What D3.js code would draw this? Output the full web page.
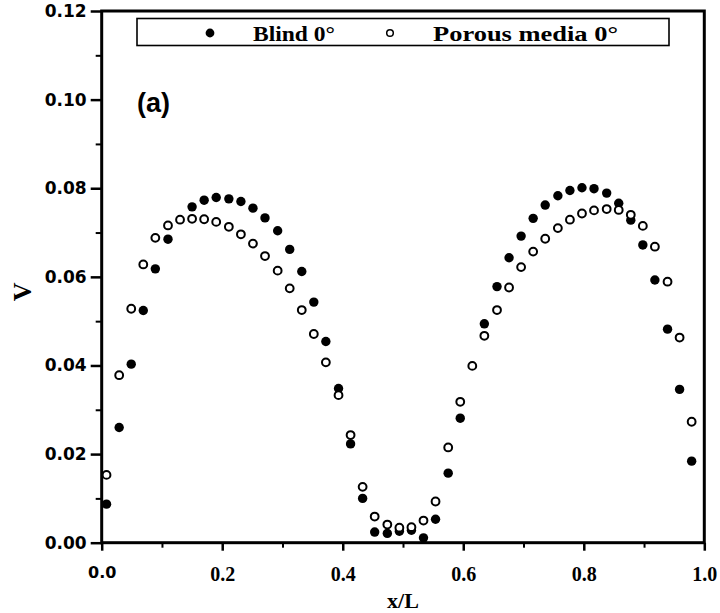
<!DOCTYPE html>
<html>
<head>
<meta charset="utf-8">
<script src="https://cdn.jsdelivr.net/npm/d3@7"></script>
<style>
  html, body { margin: 0; padding: 0; background: #fff; }
  svg { display: block; }
</style>
</head>
<body>
<svg id="chart" width="720" height="613"></svg>
<script>
// Normalised position along the channel
const xPos = [0.008, 0.029, 0.049, 0.069, 0.089, 0.110, 0.130, 0.150, 0.170, 0.190,
              0.211, 0.231, 0.251, 0.271, 0.292, 0.312, 0.332, 0.352, 0.372, 0.393,
              0.413, 0.433, 0.453, 0.474, 0.494, 0.514, 0.534, 0.554, 0.575, 0.595,
              0.615, 0.635, 0.656, 0.676, 0.696, 0.716, 0.736, 0.757, 0.777, 0.797,
              0.817, 0.838, 0.858, 0.878, 0.898, 0.918, 0.939, 0.959, 0.979];

// Velocity V, blind case (null where the marker lies under a porous-media marker)
const blindV = [0.0087, 0.0260, 0.0403, 0.0524, 0.0618, 0.0685, null, 0.0758, 0.0773, 0.0779,
                0.0776, 0.0770, 0.0755, 0.0733, 0.0704, 0.0662, 0.0612, 0.0543, 0.0454, 0.0348,
                0.0223, 0.0100, 0.0024, 0.0021, 0.0026, 0.0028, 0.0011, 0.0053, 0.0157, 0.0281,
                null, 0.0494, 0.0578, 0.0643, 0.0692, 0.0732, 0.0762, 0.0783, 0.0795, 0.0801,
                0.0799, 0.0789, 0.0766, 0.0728, 0.0672, 0.0593, 0.0482, 0.0346, 0.0184];

// Velocity V, porous media case
const porousV = [0.0153, 0.0378, 0.0528, 0.0628, 0.0688, 0.0716, 0.0729, 0.0731, 0.0730, 0.0724,
                 0.0713, 0.0696, 0.0675, 0.0647, 0.0614, 0.0574, 0.0525, 0.0471, 0.0407, 0.0333,
                 0.0243, 0.0126, 0.0059, 0.0041, 0.0034, 0.0035, 0.0050, 0.0093, 0.0215, 0.0318,
                 0.0399, 0.0467, 0.0525, 0.0576, 0.0622, 0.0657, 0.0686, 0.0710, 0.0729, 0.0743,
                 0.0750, 0.0753, 0.0751, 0.0740, 0.0715, 0.0668, 0.0589, 0.0463, 0.0273];

const seriesNames = ["Blind 0\u00B0", "Porous media 0\u00B0"];
const xMajorTicks = [0, 0.2, 0.4, 0.6, 0.8, 1.0];
const xMinorTicks = [0.1, 0.3, 0.5, 0.7, 0.9];
const yMajorTicks = [0, 0.02, 0.04, 0.06, 0.08, 0.10, 0.12];
const yMinorTicks = [0.01, 0.03, 0.05, 0.07, 0.09, 0.11];

(function drawChart() {
  const svg = d3.select("#chart");
  const plotL = 101.7, plotR = 704.3, plotT = 11, plotB = 542.7;

  const x = d3.scaleLinear().domain([0, 1]).range([plotL, plotR]);
  const y = d3.scaleLinear().domain([0, 0.12]).range([plotB, plotT]);

  const serif = "'Liberation Serif', 'Times New Roman', serif";
  const sans = "'DejaVu Sans', Verdana, sans-serif";

  // Minor ticks
  svg.append("g").attr("transform", `translate(0,${plotB})`)
    .call(d3.axisBottom(x).tickValues(xMinorTicks).tickSize(5).tickFormat(""))
    .call(g => g.select(".domain").remove())
    .call(g => g.selectAll("line").attr("stroke-width", 2));
  svg.append("g").attr("transform", `translate(${plotL},0)`)
    .call(d3.axisLeft(y).tickValues(yMinorTicks).tickSize(6).tickFormat(""))
    .call(g => g.select(".domain").remove())
    .call(g => g.selectAll("line").attr("stroke-width", 2));

  // Major x ticks and labels
  const xAxis = svg.append("g").attr("transform", `translate(0,${plotB})`)
    .call(d3.axisBottom(x).tickValues(xMajorTicks).tickSize(8).tickPadding(16)
      .tickFormat(d3.format(".1f")))
    .call(g => g.select(".domain").remove());
  xAxis.selectAll("line").attr("stroke-width", 2.5);
  xAxis.selectAll("text")
    .attr("fill", "#000")
    .style("font-family", (d, i) => i === 0 ? sans : serif)
    .style("font-size", (d, i) => i === 0 ? "16px" : "20px")
    .style("font-weight", "bold");

  // Major y ticks and labels
  const yAxis = svg.append("g").attr("transform", `translate(${plotL},0)`)
    .call(d3.axisLeft(y).tickValues(yMajorTicks).tickSize(11).tickPadding(4)
      .tickFormat(d3.format(".2f")))
    .call(g => g.select(".domain").remove());
  yAxis.selectAll("line").attr("stroke-width", 2.5);
  yAxis.selectAll("text")
    .attr("fill", "#000")
    .style("font-family", sans)
    .style("font-size", "17px")
    .style("font-weight", "bold");

  // Plot frame
  svg.append("rect")
    .attr("x", plotL).attr("y", plotT)
    .attr("width", plotR - plotL).attr("height", plotB - plotT)
    .attr("fill", "none").attr("stroke", "#000").attr("stroke-width", 3);

  // Data markers
  const blindPts = xPos.map((v, i) => ({ x: v, y: blindV[i] })).filter(d => d.y !== null);
  const porousPts = xPos.map((v, i) => ({ x: v, y: porousV[i] }));

  svg.append("g").selectAll("circle").data(blindPts).join("circle")
    .attr("cx", d => x(d.x)).attr("cy", d => y(d.y))
    .attr("r", 4.7).attr("fill", "#000");

  svg.append("g").selectAll("circle").data(porousPts).join("circle")
    .attr("cx", d => x(d.x)).attr("cy", d => y(d.y))
    .attr("r", 3.9).attr("fill", "#fff").attr("stroke", "#000").attr("stroke-width", 2);

  // Legend
  const legend = svg.append("g");
  legend.append("rect")
    .attr("x", 137).attr("y", 18.5).attr("width", 532).attr("height", 27)
    .attr("fill", "#fff").attr("stroke", "#000").attr("stroke-width", 1.6);
  legend.append("circle").attr("cx", 210).attr("cy", 33).attr("r", 4.4).attr("fill", "#000");
  legend.append("text").attr("x", 253).attr("y", 40.5)
    .attr("textLength", 82).attr("lengthAdjust", "spacingAndGlyphs")
    .style("font-family", serif).style("font-size", "22px").style("font-weight", "bold")
    .text(seriesNames[0]);
  legend.append("circle").attr("cx", 390).attr("cy", 33).attr("r", 3.3)
    .attr("fill", "#fff").attr("stroke", "#000").attr("stroke-width", 1.5);
  legend.append("text").attr("x", 433).attr("y", 40.5)
    .attr("textLength", 185).attr("lengthAdjust", "spacingAndGlyphs")
    .style("font-family", serif).style("font-size", "22px").style("font-weight", "bold")
    .text(seriesNames[1]);

  // Panel tag
  svg.append("text").attr("x", 137).attr("y", 112)
    .style("font-family", "'Liberation Sans', Arial, sans-serif")
    .style("font-size", "27px").style("font-weight", "bold")
    .text("(a)");

  // Axis titles
  svg.append("text").attr("x", (plotL + plotR) / 2).attr("y", 608)
    .attr("text-anchor", "middle")
    .style("font-family", serif).style("font-size", "22px").style("font-weight", "bold")
    .text("x/L");
  svg.append("text")
    .attr("transform", `translate(31,${(plotT + plotB) / 2 + 15}) rotate(-90)`)
    .attr("text-anchor", "middle")
    .style("font-family", serif).style("font-size", "26px").style("font-weight", "bold")
    .text("V");
})();
</script>
</body>
</html>
